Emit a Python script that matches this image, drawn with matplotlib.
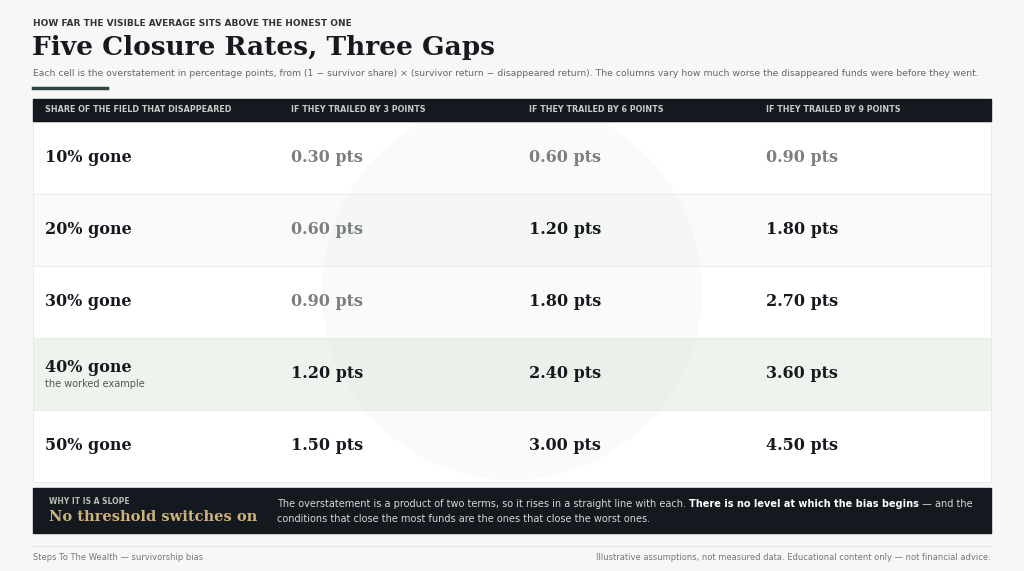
import matplotlib.pyplot as plt
from matplotlib.patches import Rectangle, Circle

# data
rows = ['10% gone', '20% gone', '30% gone', '40% gone', '50% gone']
gaps = ['IF THEY TRAILED BY 3 POINTS', 'IF THEY TRAILED BY 6 POINTS', 'IF THEY TRAILED BY 9 POINTS']
values = [
    [0.30, 0.60, 0.90],
    [0.60, 1.20, 1.80],
    [0.90, 1.80, 2.70],
    [1.20, 2.40, 3.60],
    [1.50, 3.00, 4.50],
]
highlight_row = 3

DARK = '#14181f'
INK = '#16191d'
GREY = '#7b807c'
SERIF = 'DejaVu Serif'

fig = plt.figure(figsize=(10.24, 5.71), dpi=100)
fig.patch.set_facecolor('#f7f7f7')
ax = fig.add_axes([0, 0, 1, 1])
ax.set_xlim(0, 1024)
ax.set_ylim(571, 0)
ax.axis('off')

ax.text(33, 23, 'HOW FAR THE VISIBLE AVERAGE SITS ABOVE THE HONEST ONE', fontsize=6.5,
        fontweight='bold', color='#333', va='center')
ax.text(32, 48, 'Five Closure Rates, Three Gaps', fontsize=19, fontweight='bold',
        family=SERIF, color=INK, va='center')
ax.text(33, 74, 'Each cell is the overstatement in percentage points, from (1 − survivor share) × '
        '(survivor return − disappeared return). The columns vary how much worse the disappeared '
        'funds were before they went.', fontsize=6.7, color='#666', va='center')
ax.plot([33, 107], [88, 88], color='#2f4444', lw=2.5)

x0, x1 = 33, 991
ax.add_patch(Rectangle((x0, 99), x1 - x0, 22, color=DARK, zorder=2))
colx = [45, 291, 529, 766]
heads = ['SHARE OF THE FIELD THAT DISAPPEARED'] + gaps
for x, h in zip(colx, heads):
    ax.text(x, 110, h, fontsize=5.8, fontweight='bold', color='#c9cbc6', va='center')

rh = 72
for i, (r, vals) in enumerate(zip(rows, values)):
    top = 122 + i * rh
    bg = '#eef3ee' if i == highlight_row else ('#ffffff' if i % 2 == 0 else '#f9faf9')
    ax.add_patch(Rectangle((x0, top), x1 - x0, rh, facecolor=bg, edgecolor='#e6e8e6', lw=0.6, zorder=1))
    cy = top + rh / 2
    if i == highlight_row:
        ax.text(45, cy - 7, r, fontsize=11.5, fontweight='bold', family=SERIF, color=INK, va='center')
        ax.text(45, cy + 10, 'the worked example', fontsize=7, color='#555', va='center')
    else:
        ax.text(45, cy, r, fontsize=11.5, fontweight='bold', family=SERIF, color=INK, va='center')
    for x, v in zip(colx[1:], vals):
        ax.text(x, cy, f'{v:.2f} pts', fontsize=11.5, fontweight='bold', family=SERIF,
                color=GREY if v < 1 else INK, va='center')

# faint watermark
ax.add_patch(Circle((512, 290), 190, facecolor='#dfe6df', edgecolor='none', alpha=0.18, zorder=1.5))

ax.add_patch(Rectangle((x0, 488), x1 - x0, 45, color=DARK))
ax.text(49, 501, 'WHY IT IS A SLOPE', fontsize=5.5, fontweight='bold', color='#b9bcb5', va='center')
ax.text(49, 517, 'No threshold switches on', fontsize=10.5, fontweight='bold', family=SERIF,
        color='#cdb27a', va='center')

# first line of the note, pieces placed one after another
renderer = fig.canvas.get_renderer()
inv = ax.transData.inverted()
x = 277
pieces = [('The overstatement is a product of two terms, so it rises in a straight line with each. ', 'normal', '#d7d9d4'),
          ('There is no level at which the bias begins', 'bold', 'white'),
          (' — and the', 'normal', '#d7d9d4')]
for s, w, c in pieces:
    t = ax.text(x, 504, s, fontsize=7, fontweight=w, color=c, va='center')
    bb = t.get_window_extent(renderer)
    x = inv.transform((bb.x1, bb.y0))[0]
ax.text(277, 519, 'conditions that close the most funds are the ones that close the worst ones.',
        fontsize=7, color='#d7d9d4', va='center')

ax.plot([33, 991], [546, 546], color='#e4e4e4', lw=0.8)
ax.text(33, 557, 'Steps To The Wealth — survivorship bias', fontsize=6, color='#777', va='center')
ax.text(991, 557, 'Illustrative assumptions, not measured data. Educational content only — not financial advice.',
        fontsize=6, color='#777', va='center', ha='right')

fig.savefig('out.png', dpi=100, facecolor=fig.get_facecolor())
